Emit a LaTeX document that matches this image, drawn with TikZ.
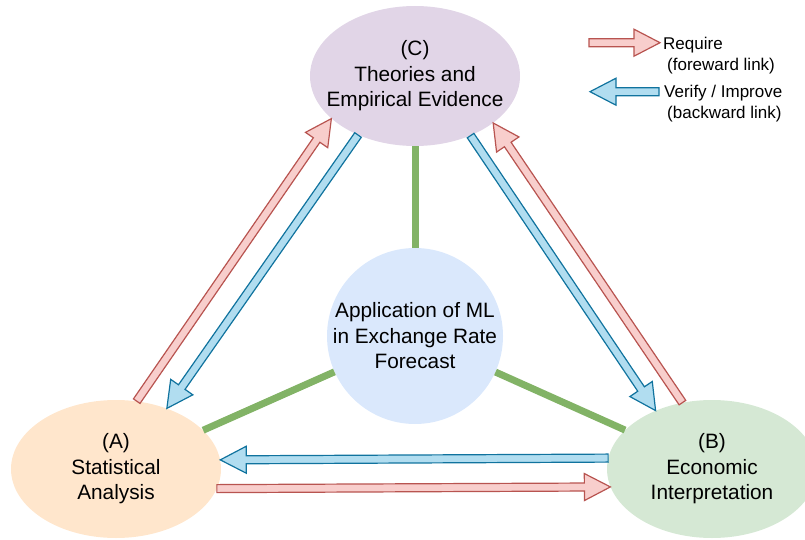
\documentclass[tikz,border=0pt]{standalone}
\usepackage{fontspec}
\setmainfont{Liberation Sans}
\usetikzlibrary{shapes.geometric,calc}

\definecolor{reqfill}{HTML}{F8CECC}
\definecolor{reqline}{HTML}{B85450}
\definecolor{verfill}{HTML}{B1DDF0}
\definecolor{verline}{HTML}{10739E}
\definecolor{linkgreen}{HTML}{82B366}
\definecolor{fillA}{HTML}{FFE6CC}
\definecolor{fillB}{HTML}{D5E8D4}
\definecolor{fillC}{HTML}{E1D5E7}
\definecolor{fillM}{HTML}{DAE8FC}

\tikzset{
  blob/.style={ellipse, inner sep=0pt, minimum width=210pt, minimum height=138pt},
  caption/.style={align=center, font=\fontsize{20.8}{25.5}\selectfont},
  legendtext/.style={anchor=north west, inner sep=0pt, align=left, font=\fontsize{17}{21.5}\selectfont},
  require/.style={fill=reqfill, draw=reqline, line width=1.2pt},
  verify/.style={fill=verfill, draw=verline, line width=1.2pt},
  link/.style={linkgreen, line width=7pt},
}

% block arrow from #2 to #3
\newcommand{\flexarrow}[3]{%
  \path[#1] let \p1=(#2), \p2=(#3), \n1={atan2(\y2-\y1,\x2-\x1)}, \n2={veclen(\x2-\x1,\y2-\y1)} in
    [shift={(\p1)}, rotate=\n1]
    (0,-4) -- (\n2-26,-4) -- (\n2-26,-13.5) -- (\n2,0) -- (\n2-26,13.5) -- (\n2-26,4) -- (0,4) -- cycle;}

\begin{document}
\begin{tikzpicture}[x=1pt, y=1pt]
\useasboundingbox (0,0) rectangle (805,539);

\node[blob, fill=fillC, minimum height=140pt, label={[caption]center:{(C)\\Theories and\\Empirical Evidence}}] (C) at (415,463) {};
\node[blob, fill=fillA, label={[caption]center:{(A)\\Statistical\\Analysis}}] (A) at (116,70) {};
\node[blob, fill=fillB, label={[caption]center:{(B)\\Economic\\Interpretation}}] (B) at (712,70) {};
\node[circle, inner sep=0pt, minimum size=176pt, fill=fillM, label={[caption]center:{Application of ML\\in Exchange Rate\\Forecast}}] (M) at (415,203) {};

\draw[link] (C) -- (M);
\draw[link] (M) -- (A);
\draw[link] (M) -- (B);

\flexarrow{require}{A.73}{C.207.4}
\flexarrow{verify}{C.226.4}{A.50.1}
\flexarrow{verify}{C.313.5}{B.134.5}
\flexarrow{require}{B.114.5}{C.329.9}
\flexarrow{verify}{B.174}{A.5.4}
\flexarrow{require}{A.349.5}{B.190.5}

% legend
\coordinate (reqtail) at (589,496.3);
\coordinate (reqtip) at (660,496.3);
\coordinate (vertail) at (659,447.3);
\coordinate (vertip) at (590,447.3);
\flexarrow{require}{reqtail}{reqtip}
\flexarrow{verify}{vertail}{vertip}
\node[legendtext] (reqtext) at (663,502.5) {Require\\\hspace*{4pt}(foreward link)};
\node[legendtext] (vertext) at (664,454.5) {Verify / Improve\\\hspace*{3pt}(backward link)};
\end{tikzpicture}
\end{document}
